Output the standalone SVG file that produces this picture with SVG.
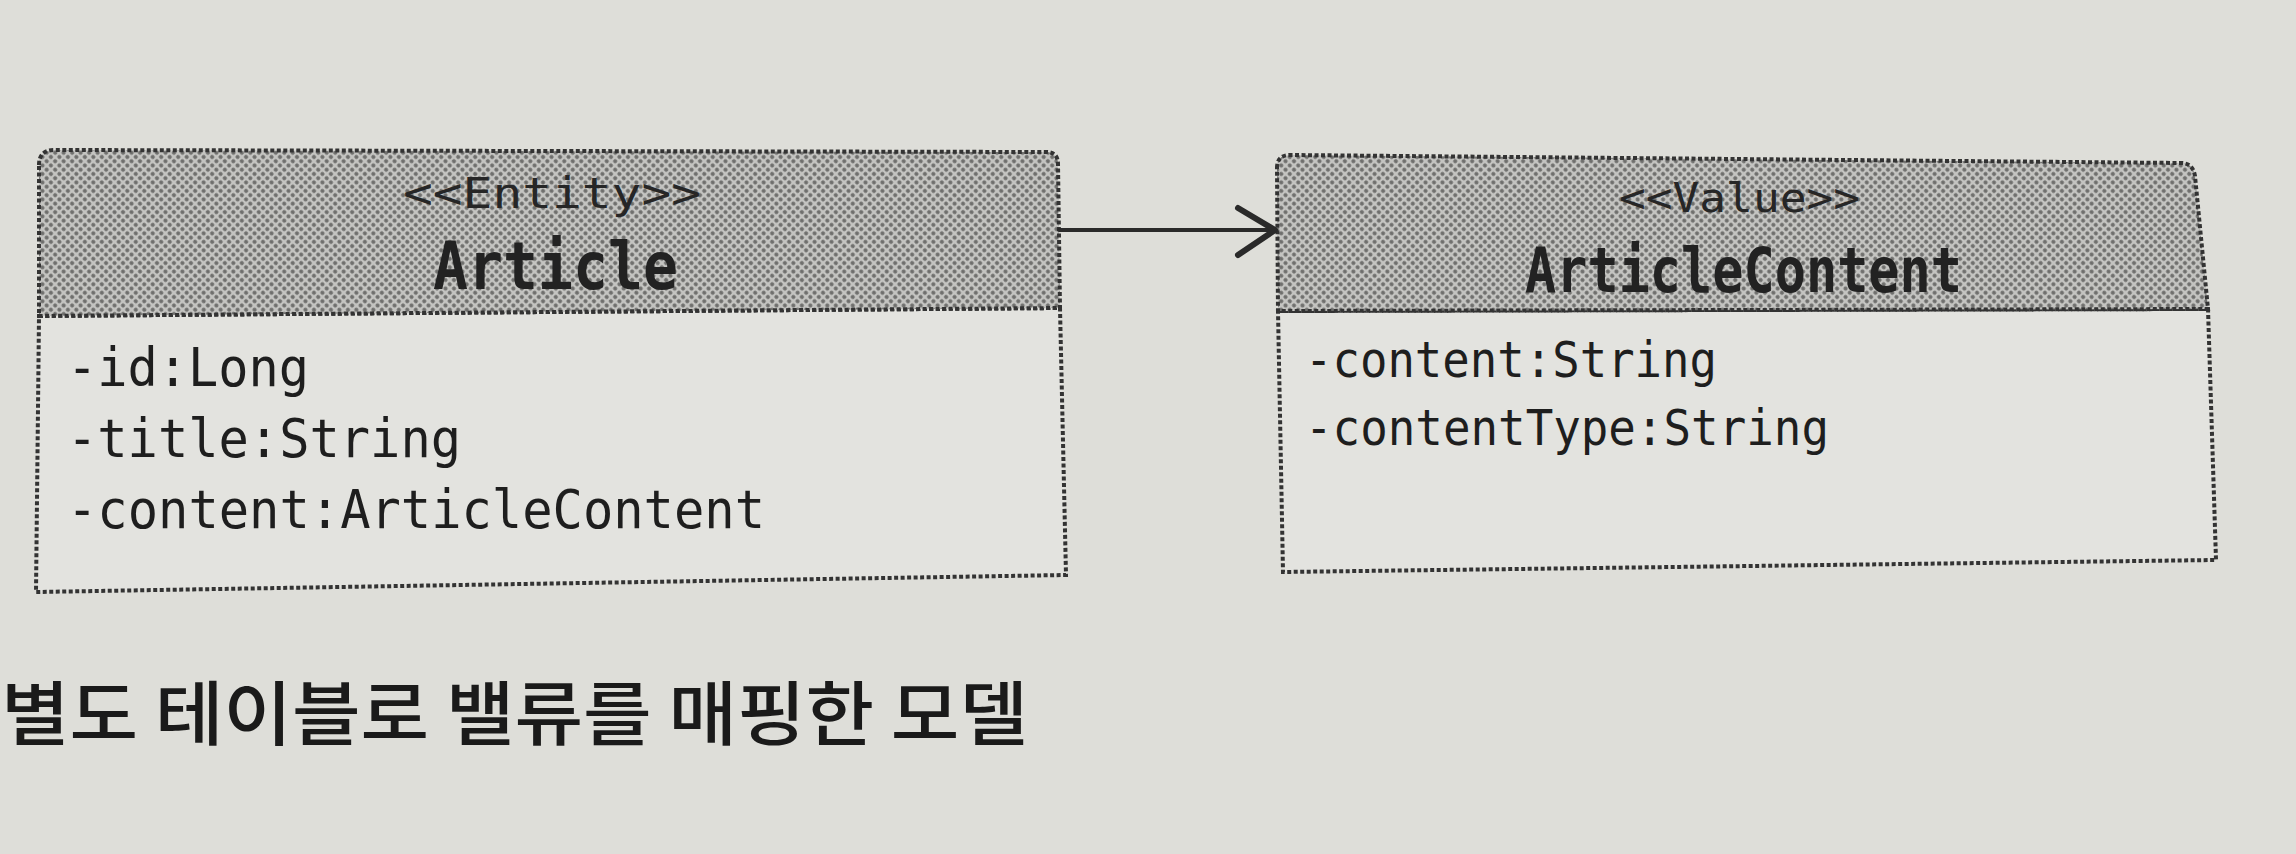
<svg xmlns="http://www.w3.org/2000/svg" width="2296" height="854" viewBox="0 0 2296 854">
<defs>
<pattern id="dots" width="6" height="6" patternUnits="userSpaceOnUse" patternTransform="rotate(45)">
<rect width="6" height="6" fill="#c4c4c1"/>
<circle cx="3" cy="3" r="2.1" fill="#6e6e6c"/>
</pattern>
</defs>
<style>
.hdr{fill:url(#dots);stroke:#333;stroke-width:4;stroke-dasharray:4 2.5}
.body{fill:#e3e3df;stroke:#333;stroke-width:4;stroke-dasharray:4 2.5}
.st{font-family:"DejaVu Sans Mono","Liberation Mono",monospace;fill:#262626}
.nm{font-family:"DejaVu Sans Mono","Liberation Mono",monospace;font-weight:bold;fill:#222}
.at{font-family:"DejaVu Sans Mono","Liberation Mono",monospace;fill:#1e1e1e}
.cap{font-family:"Noto Sans CJK KR","Noto Sans",sans-serif;font-weight:500;fill:#1a1a1a}
.conn{stroke:#2a2a2a;fill:none;stroke-linecap:round;stroke-linejoin:round}
</style>
<rect width="2296" height="854" fill="#deded9"/>
<g id="Article">
<path class="body" d="M39,316 L1060,308 L1066,575 L36,592 Z"/>
<path class="hdr" d="M39,165 Q39,150 54,150 L1046,152 Q1058,152 1058,164 L1060,308 L39,316 Z"/>
<text class="st" x="403" y="208" font-size="42" textLength="298" lengthAdjust="spacingAndGlyphs">&lt;&lt;Entity&gt;&gt;</text>
<text class="nm" x="433" y="289" font-size="66" textLength="245" lengthAdjust="spacingAndGlyphs">Article</text>
<text class="at" x="67" y="386" font-size="54" textLength="242" lengthAdjust="spacingAndGlyphs">-id:Long</text>
<text class="at" x="67" y="457" font-size="54" textLength="394" lengthAdjust="spacingAndGlyphs">-title:String</text>
<text class="at" x="67" y="528" font-size="54" textLength="698" lengthAdjust="spacingAndGlyphs">-content:ArticleContent</text>
</g>
<g id="ArticleContent">
<path class="body" d="M1278,311 L2208,309 L2216,560 L1283,572 Z"/>
<path class="hdr" d="M1277,168 Q1277,155 1290,155 L2181,163 Q2193,163 2195,176 L2208,309 L1278,311 Z"/>
<text class="st" x="1619" y="212" font-size="40" textLength="241" lengthAdjust="spacingAndGlyphs">&lt;&lt;Value&gt;&gt;</text>
<text class="nm" x="1525" y="292" font-size="62" textLength="437" lengthAdjust="spacingAndGlyphs">ArticleContent</text>
<text class="at" x="1305" y="377" font-size="50" textLength="412" lengthAdjust="spacingAndGlyphs">-content:String</text>
<text class="at" x="1305" y="445" font-size="50" textLength="524" lengthAdjust="spacingAndGlyphs">-contentType:String</text>
</g>
<g id="connectors">
<line class="conn" x1="1059" y1="230" x2="1275" y2="230" stroke-width="4"/>
<polyline class="conn" points="1238,208 1275,230 1238,255" stroke-width="6"/>
</g>
<g id="caption">
<text class="cap" x="1" y="740" font-size="70" textLength="1027" lengthAdjust="spacingAndGlyphs">별도 테이블로 밸류를 매핑한 모델</text>
</g>
</svg>
